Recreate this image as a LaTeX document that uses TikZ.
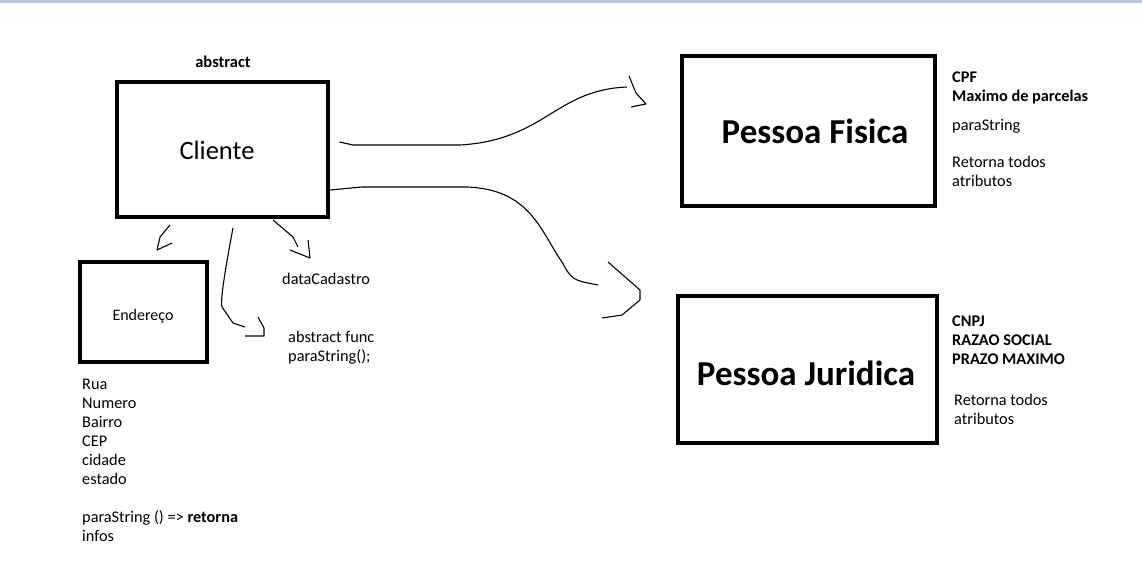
\documentclass[tikz,border=0pt]{standalone}
\usepackage{fontspec}
\setmainfont{Carlito}
\begin{document}
\begin{tikzpicture}[x=1pt, y=-1pt,
  caixa/.style={rectangle, draw, line width=4pt, inner sep=0pt},
  texto/.style={inner sep=0pt, anchor=north west, align=left, font=\fontsize{16.3}{19}\selectfont},
  traco/.style={line width=1.1pt, line join=round}]
  \useasboundingbox (0,0) rectangle (1142,581);
  \fill[color={rgb,255:red,192;green,200;blue,216}] (0,0) rectangle (1142,2.5);
  % Classe abstrata
  \node (abs) at (223,62) {\fontsize{16.5}{19}\selectfont\bfseries abstract};
  \node[caixa, minimum width=211pt, minimum height=135pt] (cliente) at (222.5,149.5) {};
  \node (nomecli) at (217,150) {\fontsize{26.5}{30}\selectfont Cliente};
  % Endereco
  \node[caixa, minimum width=127pt, minimum height=100pt] (end) at (143.5,312) {};
  \node (nomeend) at (143,316) {\fontsize{16}{19}\selectfont Endereço};
  \node[texto] (attend) at (82,379) {Rua\\Numero\\Bairro\\CEP\\cidade\\estado\\[19pt]paraString () => \textbf{retorna}\\infos};
  % Subclasses
  \node[caixa, minimum width=253pt, minimum height=150pt] (fisica) at (808.5,131) {};
  \node (nomefis) at (815,131) {\fontsize{35}{40}\selectfont\bfseries Pessoa Fisica};
  \node[texto] (attfis) at (952,72) {\textbf{CPF}\\\textbf{Maximo de parcelas}\\[10pt]paraString\\[18pt]Retorna todos\\atributos};
  \node[caixa, minimum width=259pt, minimum height=147pt] (juridica) at (807.5,369.5) {};
  \node (nomejur) at (806,373) {\fontsize{35}{40}\selectfont\bfseries Pessoa Juridica};
  \node[texto] (attjur) at (952,316) {\textbf{CNPJ}\\\textbf{RAZAO SOCIAL}\\\textbf{PRAZO MAXIMO}\\[22pt]\hspace{2pt}Retorna todos\\\hspace{2pt}atributos};
  % Atributos do cliente
  \node[texto] (data) at (282,273) {dataCadastro};
  \node[texto] (func) at (288,331) {abstract func\\paraString();};
  % Setas desenhadas a mao
  \coordinate (f1) at (627,87);
  \coordinate (f2) at (598,285);
  \draw[traco] ([xshift=9.5pt, yshift=7.5pt]cliente.east) -- (353,145) -- (460,145)
    .. controls (545,140) and (555,90) .. (f1);
  \draw[traco] (629,76) -- (636,93) -- (646,104) -- (631,107);
  \draw[traco] ([xshift=0pt, yshift=-40.5pt]cliente.east) -- (362,187) -- (468,187)
    .. controls (530,190) and (540,230) .. (562,262)
    .. controls (572,280) .. (f2);
  \draw[traco] (608,262) -- (640,290) -- (640,300) -- (622,315) -- (602,318);
  % Para Endereco
  \draw[traco] ([xshift=-52.5pt, yshift=-6pt]cliente.south) -- (160,237);
  \draw[traco] (160,237) -- (157,250) -- (172,243);
  % Para dataCadastro
  \draw[traco] ([xshift=50.5pt, yshift=-1pt]cliente.south) -- (293,237) -- (298,247);
  \draw[traco] (308,240) -- (310,258) -- (290,250);
  % Para paraString
  \draw[traco] ([xshift=10.5pt, yshift=-9pt]cliente.south) .. controls (226,265) and (220,300) .. (222,307)
    -- (233,323) -- (245,327);
  \draw[traco] (258,317) -- (264,328) -- (264,336) -- (245,336);
\end{tikzpicture}
\end{document}
